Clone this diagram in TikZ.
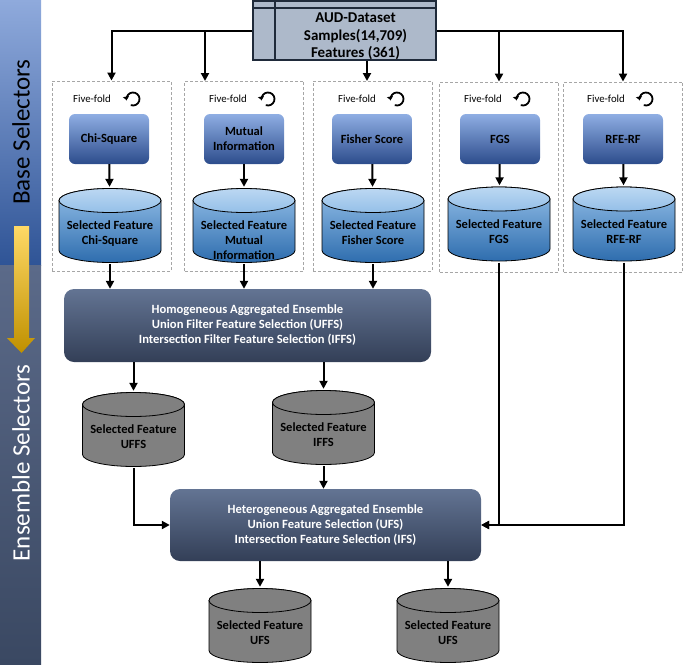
\documentclass[tikz,border=0pt]{standalone}
\usepackage{fontspec}
\setmainfont{Carlito}
\usetikzlibrary{%
  positioning,
  calc,
  arrows.meta,
}
\definecolor{sidetop}{HTML}{8FAADC}
\definecolor{sidemid}{HTML}{2F5496}
\definecolor{slatetop}{HTML}{5B6A89}
\definecolor{slatebot}{HTML}{3A4862}
\definecolor{goldtop}{HTML}{FFD966}
\definecolor{goldbot}{HTML}{BF9000}
\definecolor{datafill}{HTML}{ADB9CA}
\definecolor{dataline}{HTML}{1F2A3A}
\definecolor{methtop}{HTML}{8FAEE3}
\definecolor{methbot}{HTML}{2C4C8C}
\definecolor{cyllight}{HTML}{BCD8F2}
\definecolor{cyltop}{HTML}{94BFE8}
\definecolor{cylbot}{HTML}{2E6DAE}
\definecolor{enstop}{HTML}{637493}
\definecolor{ensbot}{HTML}{333F57}

\begin{document}
\begin{tikzpicture}[
    x=1pt, y=-1pt,
    every text node part/.style={align=center},
    font=\bfseries\fontsize{12.5}{15}\selectfont,
    conn/.style={
      % the black connectors
      line width=2pt,
      -{Triangle[length=8pt,width=8pt]},
    },
    dataset/.style={
      rectangle,
      minimum width=183pt,
      minimum height=59pt,
      line width=1.3pt,
      draw=dataline,
      fill=datafill,
      font=\bfseries\fontsize{15}{17.5}\selectfont,
      % the header row and the left column
      path picture={
        \draw[line width=1.3pt, dataline]
          ([yshift=-7pt]path picture bounding box.north west) --
          ([yshift=-7pt]path picture bounding box.north east);
        \draw[line width=1.3pt, dataline]
          ([xshift=22pt]path picture bounding box.north west) --
          ([xshift=22pt]path picture bounding box.south west);
      },
    },
    fold/.style={
      rectangle,
      minimum width=119pt,
      minimum height=190pt,
      line width=0.9pt,
      draw=black!35,
      dash pattern=on 3pt off 2pt,
    },
    foldtext/.style={
      font=\fontsize{10.8}{12}\selectfont,
      inner sep=0pt,
    },
    loopmark/.style={
      line width=1.8pt,
      -{Triangle[length=3.5pt,width=6pt]},
    },
    method/.style={
      rectangle,
      rounded corners=6pt,
      minimum width=80pt,
      minimum height=50pt,
      inner sep=1pt,
      % a shading from light to dark blue
      top color=methtop,
      bottom color=methbot,
    },
    % a cylinder of 102 x 74, body and lid given
    store/.style 2 args={
      rectangle,
      minimum width=106pt,
      minimum height=77pt,
      inner sep=0pt,
      path picture={
        \begin{scope}[shift={(path picture bounding box.center)}, line width=0.8pt]
          \path[draw=black, #1]
            (-51,-25) -- (-51,25)
            arc[start angle=180, end angle=0, x radius=51, y radius=12]
            -- (51,-25)
            arc[start angle=0, end angle=-180, x radius=51, y radius=12] -- cycle;
          \path[draw=black, #2] (0,-25) ellipse [x radius=51, y radius=12];
        \end{scope}
      },
    },
    bluestore/.style={
      store={top color=cyltop, bottom color=cylbot}{top color=cyllight, bottom color=cyltop},
    },
    graystore/.style={
      store={fill=black!50}{fill=black!50},
    },
    storetext/.style={
      inner sep=0pt,
    },
    ensemble/.style={
      rectangle,
      rounded corners=10pt,
      text=white,
      font=\bfseries\fontsize{12.6}{15}\selectfont,
      top color=enstop,
      bottom color=ensbot,
    }]

    \useasboundingbox (0,0) rectangle (685,664);

    % side bar
    \shade[top color=sidetop, bottom color=sidemid] (0,0) rectangle (41,265);
    \shade[top color=slatetop, bottom color=slatebot] (0,265) rectangle (41,664);
    \shade[top color=goldtop, bottom color=goldbot]
      (14,226) -- (29,226) -- (29,338) -- (35,338) -- (21.5,353)
      -- (7,338) -- (14,338) -- cycle;
    \node[rotate=90, font=\fontsize{25}{30}\selectfont] (base) at (21,132) {Base Selectors};
    \node[rotate=90, font=\fontsize{25}{30}\selectfont, text=white] (ens) at (21,463) {Ensemble Selectors};

    % dataset
    \node[dataset] (data) at (344.5,30.5)
      {\hspace*{22pt}\raisebox{-10pt}[0pt][0pt]{\begin{tabular}{@{}c@{}}AUD-Dataset\\Samples(14,709)\\Features (361)\end{tabular}}};

    % base selectors
    \node[fold] (fold1) at (111.5,176) {};
    \node[fold] (fold2) at (244,176) {};
    \node[fold] (fold3) at (372.5,176) {};
    \node[fold] (fold4) at (499,177) {};
    \node[fold] (fold5) at (623,177) {};

    \node[foldtext] (ff1) at (92,99) {Five-fold};
    \node[foldtext] (ff2) at (228,99) {Five-fold};
    \node[foldtext] (ff3) at (357,99) {Five-fold};
    \node[foldtext] (ff4) at (483,99) {Five-fold};
    \node[foldtext] (ff5) at (606,99) {Five-fold};
    \draw[loopmark] (133,99) ++(110:6.5) arc[start angle=110, end angle=-190, radius=6.5];
    \draw[loopmark] (268,99) ++(110:6.5) arc[start angle=110, end angle=-190, radius=6.5];
    \draw[loopmark] (397,99) ++(110:6.5) arc[start angle=110, end angle=-190, radius=6.5];
    \draw[loopmark] (523,99) ++(110:6.5) arc[start angle=110, end angle=-190, radius=6.5];
    \draw[loopmark] (646,99) ++(110:6.5) arc[start angle=110, end angle=-190, radius=6.5];

    \node[method] (chi) at (109,139) {Chi-Square};
    \node[method] (mi) at (244,139) {Mutual \\ Information};
    \node[method] (fisher) at (372,139) {Fisher Score};
    \node[method] (fgs) at (500,139) {FGS};
    \node[method] (rfe) at (623,139) {RFE-RF};

    \node[bluestore] (sel1) at (110,225.5) {};
    \node[bluestore] (sel2) at (244,225.5) {};
    \node[bluestore] (sel3) at (373,225.5) {};
    \node[bluestore] (sel4) at (499,224) {};
    \node[bluestore] (sel5) at (624,224) {};
    \node[storetext, below=34pt of sel1.north] (sel1t) {Selected Feature \\ Chi-Square};
    \node[storetext, below=34pt of sel2.north] (sel2t) {Selected Feature \\ Mutual \\ Information};
    \node[storetext, below=34pt of sel3.north] (sel3t) {Selected Feature \\ Fisher Score};
    \node[storetext, below=34pt of sel4.north] (sel4t) {Selected Feature \\ FGS};
    \node[storetext, below=34pt of sel5.north] (sel5t) {Selected Feature \\ RFE-RF};

    % ensemble selectors
    \node[ensemble, minimum width=367pt, minimum height=73pt] (homog) at (247.5,325.5)
      {Homogeneous Aggregated Ensemble \\ Union Filter Feature Selection (UFFS) \\
       Intersection Filter Feature Selection (IFFS)};
    \node[graystore] (uffs) at (133.5,429.5) {};
    \node[graystore] (iffs) at (323.5,427.5) {};
    \node[storetext, below=34pt of uffs.north] (uffst) {Selected Feature \\ UFFS};
    \node[storetext, below=34pt of iffs.north] (iffst) {Selected Feature \\ IFFS};
    \node[ensemble, minimum width=311pt, minimum height=72pt] (heter) at (325.5,525)
      {Heterogeneous Aggregated Ensemble \\ Union Feature Selection (UFS) \\
       Intersection Feature Selection (IFS)};
    \node[graystore] (ufsa) at (260,625.5) {};
    \node[graystore] (ufsb) at (448,625.5) {};
    \node[storetext, below=34pt of ufsa.north] (ufsat) {Selected Feature \\ UFS};
    \node[storetext, below=34pt of ufsb.north] (ufsbt) {Selected Feature \\ UFS};

    % connectors
    \coordinate (tap2) at (205,81);
    \coordinate (tap3) at (367,81);
    \draw[conn] (data.west) -| (fold1.north);
    \draw[conn] (data.west -| tap2) -- (tap2);
    \draw[conn] (data.south -| tap3) -- (tap3);
    \draw[conn] (data.east -| fold4.north) -- (fold4.north);
    \draw[conn] (data.east) -| (fold5.north);

    \draw[conn] (chi) -- (sel1);
    \draw[conn] (mi) -- (sel2);
    \draw[conn] (fisher) -- (sel3);
    \draw[conn] (fgs) -- (sel4);
    \draw[conn] (rfe) -- (sel5);

    \draw[conn] (sel1.south) -- (sel1.south |- homog.north);
    \draw[conn] (sel2.south) -- (sel2.south |- homog.north);
    \draw[conn] (sel3.south) -- (sel3.south |- homog.north);

    \draw[conn] (homog.south -| uffs.north) -- (uffs.north);
    \draw[conn] (homog.south -| iffs.north) -- (iffs.north);
    \draw[conn] (iffs.south) -- (iffs.south |- heter.north);
    \draw[conn] (uffs.south) |- (heter.west);
    \draw[conn] (sel4.south) |- (heter.east);
    \draw[conn] (sel5.south) |- (heter.east);

    \draw[conn] (heter.south -| ufsa.north) -- (ufsa.north);
    \draw[conn] (heter.south -| ufsb.north) -- (ufsb.north);
  \end{tikzpicture}
\end{document}
